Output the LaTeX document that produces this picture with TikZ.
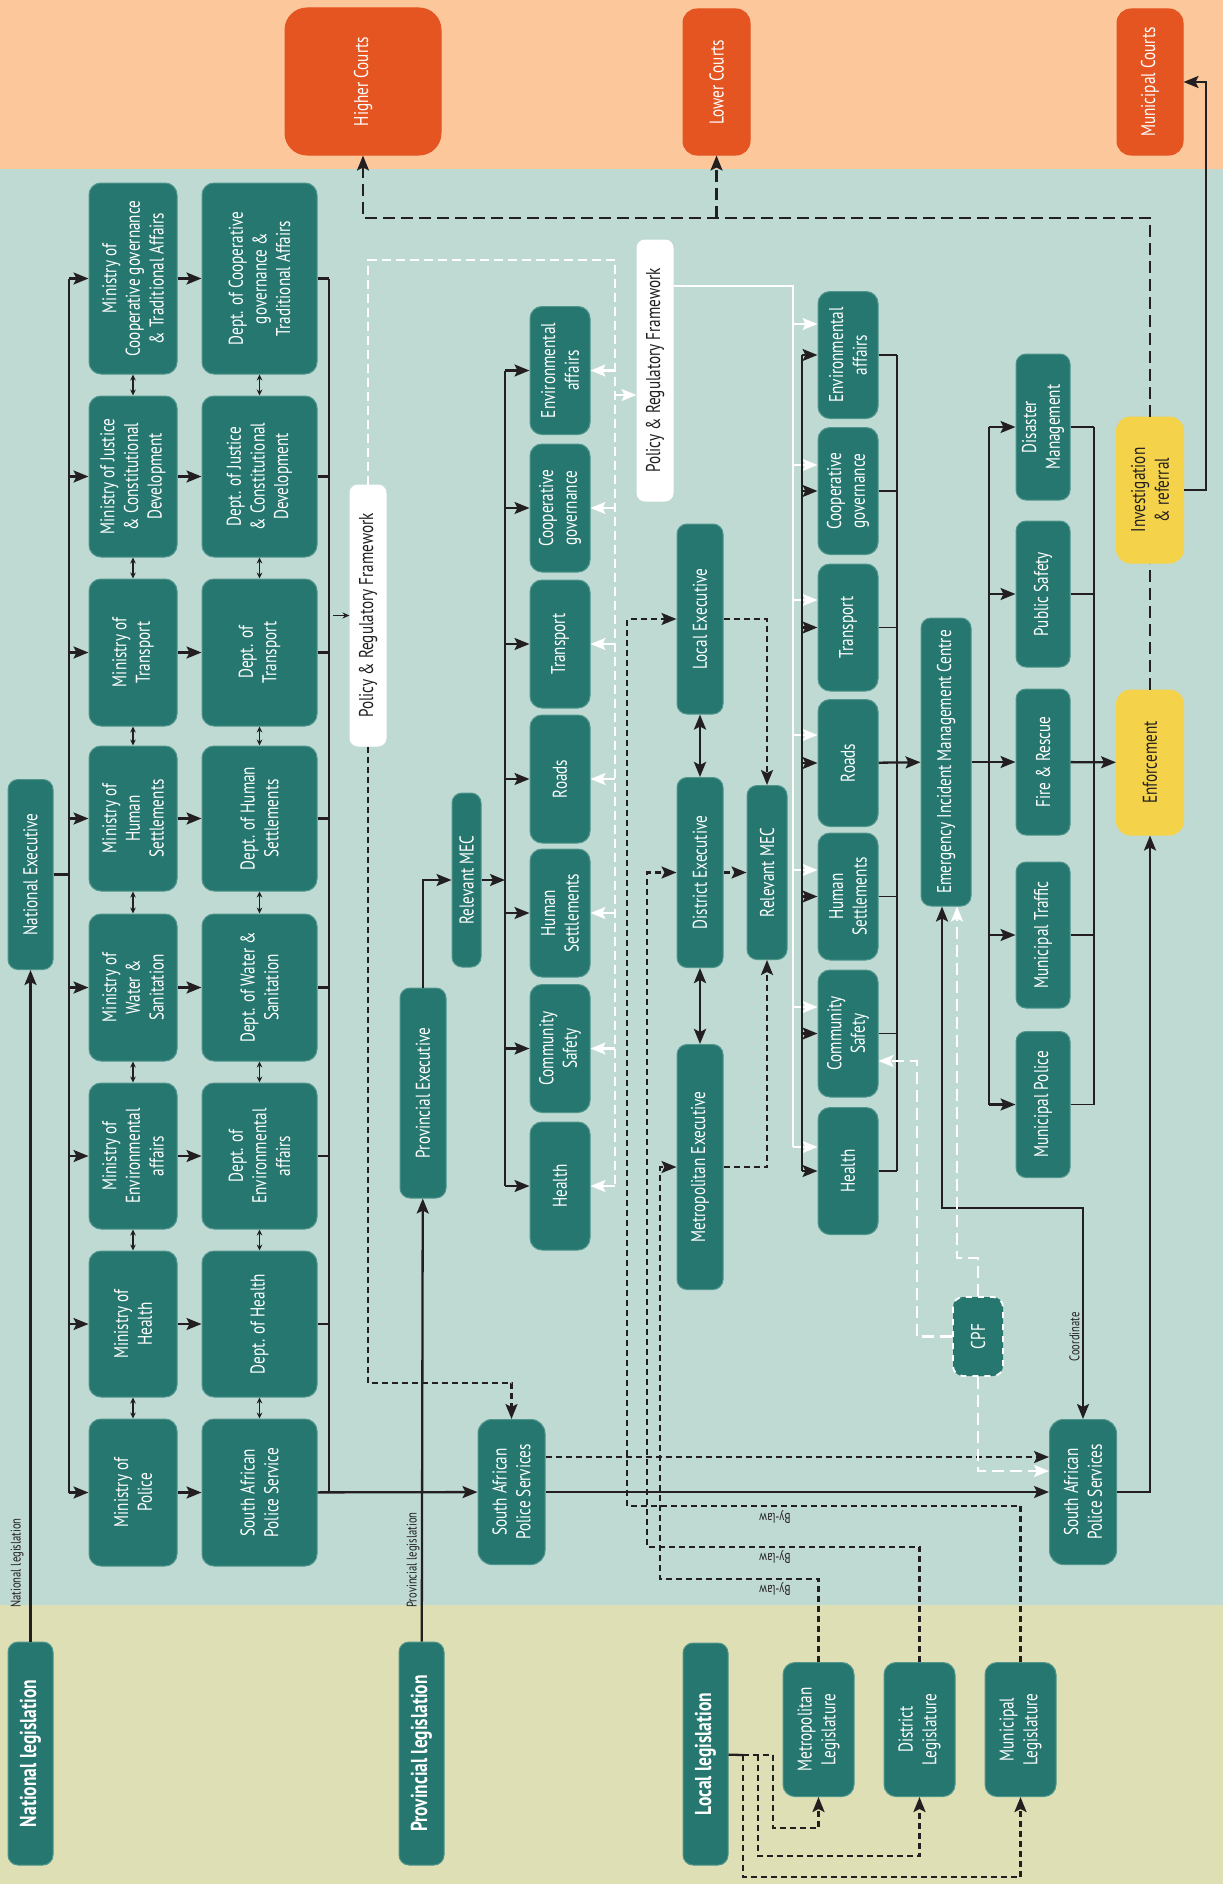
\documentclass[tikz,border=0pt]{standalone}
\usepackage{fontspec}
\setmainfont{PT Sans}[FakeStretch=0.76]
\usetikzlibrary{arrows.meta}

\definecolor{peach}{HTML}{FBC79B}
\definecolor{mint}{HTML}{BFD9D3}
\definecolor{olive}{HTML}{DEDFB4}
\definecolor{boxteal}{HTML}{26776F}
\definecolor{boxedge}{HTML}{4F958C}
\definecolor{courtred}{HTML}{E55522}
\definecolor{signal}{HTML}{F4D34A}
\definecolor{ink}{HTML}{231F20}

\begin{document}
\begin{tikzpicture}[
		x=0.5pt, y=-0.5pt,
		tealbox/.style={rectangle, rotate=90, fill=boxteal, draw=boxedge, line width=0.5pt, rounded corners=5pt, text=white, align=center, inner sep=1pt, font=\fontsize{10}{11.8}\selectfont},
		court/.style={tealbox, fill=courtred, draw=courtred, rounded corners=7pt},
		signalbox/.style={tealbox, fill=signal, draw=signal, text=ink, rounded corners=7pt},
		framebox/.style={tealbox, fill=white, draw=white, text=ink, rounded corners=4pt},
		legbox/.style={tealbox, font=\bfseries\fontsize{11.5}{13}\selectfont},
		mincol/.style={tealbox, minimum height=44pt, rounded corners=6pt},
		deptcol/.style={tealbox, minimum height=57.5pt, rounded corners=6pt},
		provcol/.style={tealbox, minimum height=30pt, minimum width=64pt, rounded corners=6pt},
		localcol/.style={tealbox, minimum height=30pt, minimum width=63.5pt, rounded corners=6pt},
		servcol/.style={tealbox, minimum height=27pt, minimum width=73pt},
		tag/.style={rotate=90, text=ink, inner sep=1pt, font=\fontsize{7}{8}\selectfont},
		bylaw/.style={rotate=180, text=ink, inner sep=1pt, font=\fontsize{7}{8}\selectfont},
		wire/.style={draw=ink, line width=1.15pt},
		thinwire/.style={draw=ink, line width=0.8pt},
		arrow/.style={wire, -{Stealth[length=7.5pt, width=6pt, inset=1.5pt]}},
		twoway/.style={wire, {Stealth[length=7.5pt, width=6pt, inset=1.5pt]}-{Stealth[length=7.5pt, width=6pt, inset=1.5pt]}},
		minilink/.style={draw=ink, line width=0.6pt, {Stealth[length=3pt, width=2.8pt]}-{Stealth[length=3pt, width=2.8pt]}},
		dashlink/.style={arrow, dash pattern=on 3pt off 2pt},
		courtline/.style={wire, dash pattern=on 6pt off 3pt},
		courtlink/.style={courtline, -{Stealth[length=7.5pt, width=6pt, inset=1.5pt]}},
		whiteline/.style={draw=white, line width=1.1pt},
		whitearrow/.style={whiteline, -{Stealth[length=7.5pt, width=6pt, inset=1.5pt]}},
		whitedashline/.style={whiteline, dash pattern=on 4.5pt off 2.5pt},
		whitedash/.style={whitearrow, dash pattern=on 6pt off 3pt}
		]
		
		\useasboundingbox (0,0) rectangle (1223,1884);
		%==================== Bands ====================%
		\fill[peach] (0,0) rectangle (1223,169);
		\fill[mint] (0,169) rectangle (1223,1605);
		\fill[olive] (0,1605) rectangle (1223,1884);
		
		%==================== Courts ====================%
		\node[court, minimum width=73.5pt, minimum height=78pt, rounded corners=11pt] (higher) at (363,81.5) {Higher Courts};
		\node[court, minimum width=73pt, minimum height=33.5pt] (lower) at (716.5,82) {Lower Courts};
		\node[court, minimum width=73pt, minimum height=33pt] (mcourts) at (1150,82) {Municipal Courts};
		
		%==================== National ====================%
		\node[tealbox, minimum width=95pt, minimum height=22.5pt] (natexec) at (30.5,874.5) {National Executive};
		\node[legbox, minimum width=111.5pt, minimum height=22.5pt] (natleg) at (30.5,1753.5) {National legislation};
		
		\node[mincol, minimum width=95.5pt] (mcoop) at (133,278.5) {Ministry of\\Cooperative governance\\\& Traditional Affairs};
		\node[deptcol, minimum width=95.5pt] (dcoop) at (259.5,278.5) {Dept. of Cooperative\\governance \&\\Traditional Affairs};
		\node[mincol, minimum width=80.5pt] (mjust) at (133,476.5) {Ministry of Justice\\\& Constitutional\\Development};
		\node[deptcol, minimum width=80.5pt] (djust) at (259.5,476.5) {Dept. of Justice\\\& Constitutional\\Development};
		\node[mincol, minimum width=73.5pt] (mtrans) at (133,652.5) {Ministry of\\Transport};
		\node[deptcol, minimum width=73.5pt] (dtrans) at (259.5,652.5) {Dept. of\\Transport};
		\node[mincol, minimum width=72.5pt] (mhum) at (133,818.5) {Ministry of\\Human\\Settlements};
		\node[deptcol, minimum width=72.5pt] (dhum) at (259.5,818.5) {Dept. of Human\\Settlements};
		\node[mincol, minimum width=73.5pt] (mwat) at (133,987.5) {Ministry of\\Water \&\\Sanitation};
		\node[deptcol, minimum width=73.5pt] (dwat) at (259.5,987.5) {Dept. of Water \&\\Sanitation};
		\node[mincol, minimum width=73pt] (menv) at (133,1156) {Ministry of\\Environmental\\affairs};
		\node[deptcol, minimum width=73pt] (denv) at (259.5,1156) {Dept. of\\Environmental\\affairs};
		\node[mincol, minimum width=73pt] (mhealth) at (133,1324) {Ministry of\\Health};
		\node[deptcol, minimum width=73pt] (dhealth) at (259.5,1324) {Dept. of Health};
		\node[mincol, minimum width=73.5pt] (mpol) at (133,1492.5) {Ministry of\\Police};
		\node[deptcol, minimum width=73.5pt] (dpol) at (259.5,1492.5) {South African\\Police Service};
		
		%==================== Provincial ====================%
		\node[framebox, minimum width=130.5pt, minimum height=18pt] (ppolicy) at (368,615.5) {Policy \& Regulatory Framework};
		\node[tealbox, minimum width=105pt, minimum height=23pt] (provexec) at (423,1093) {Provincial Executive};
		\node[legbox, minimum width=111.5pt, minimum height=22.5pt] (provleg) at (421.5,1753.5) {Provincial legislation};
		\node[tealbox, minimum width=87pt, minimum height=14.5pt] (pmec) at (466.5,880) {Relevant MEC};
		\node[tealbox, minimum width=72.5pt, minimum height=33.5pt, rounded corners=7pt] (psaps) at (511.5,1492) {South African\\Police Services};
		
		\node[provcol] (penv) at (560,370.5) {Environmental\\affairs};
		\node[provcol] (pcoop) at (560,508) {Cooperative\\governance};
		\node[provcol] (ptrans) at (560,644) {Transport};
		\node[provcol] (proads) at (560,779) {Roads};
		\node[provcol] (phum) at (560,913) {Human\\Settlements};
		\node[provcol] (pcomm) at (560,1048.5) {Community\\Safety};
		\node[provcol] (phealth) at (560,1186) {Health};
		
		%==================== Local ====================%
		\node[framebox, minimum width=130.5pt, minimum height=18pt] (lpolicy) at (655,370.5) {Policy \& Regulatory Framework};
		\node[tealbox, minimum width=95pt, minimum height=23pt] (lexec) at (700,619) {Local Executive};
		\node[tealbox, minimum width=95pt, minimum height=23pt] (dexec) at (700,872.5) {District Executive};
		\node[tealbox, minimum width=122.5pt, minimum height=23pt] (mexec) at (700,1167) {Metropolitan Executive};
		\node[tealbox, minimum width=87pt, minimum height=20pt] (lmec) at (767,872.5) {Relevant MEC};
		
		\node[localcol] (lenv) at (848,355) {Environmental\\affairs};
		\node[localcol] (lcoop) at (848,491) {Cooperative\\governance};
		\node[localcol] (ltrans) at (848,627.5) {Transport};
		\node[localcol] (lroads) at (848,763) {Roads};
		\node[localcol] (lhum) at (848,896.5) {Human\\Settlements};
		\node[localcol] (lcomm) at (848,1033.5) {Community\\Safety};
		\node[localcol] (lhealth) at (848,1171) {Health};
		
		\node[tealbox, minimum width=144pt, minimum height=25pt] (eimc) at (946,762) {Emergency Incident Management Centre};
		
		\node[servcol] (disaster) at (1043,427) {Disaster\\Management};
		\node[servcol] (pubsafe) at (1043,594) {Public Safety};
		\node[servcol] (fire) at (1043,762) {Fire \& Rescue};
		\node[servcol] (traffic) at (1043,935) {Municipal Traffic};
		\node[servcol] (mpolice) at (1043,1104.5) {Municipal Police};
		
		\node[signalbox, minimum width=72.5pt, minimum height=33.5pt] (enforce) at (1150,762.5) {Enforcement};
		\node[signalbox, minimum width=73pt, minimum height=33.5pt] (invest) at (1150,490) {Investigation\\\& referral};
		
		\node[tealbox, minimum width=39.5pt, minimum height=25pt, draw=white, dashed, line width=0.9pt] (cpf) at (978,1336.5) {CPF};
		\node[tealbox, minimum width=72.5pt, minimum height=33.5pt, rounded corners=7pt] (lsaps) at (1083,1492) {South African\\Police Services};
		
		\node[legbox, minimum width=111pt, minimum height=22.5pt] (localleg) at (705.5,1754) {Local legislation};
		\node[tealbox, minimum width=67pt, minimum height=35.5pt, rounded corners=6pt] (metleg) at (818.5,1729.5) {Metropolitan\\Legislature};
		\node[tealbox, minimum width=67pt, minimum height=35.5pt, rounded corners=6pt] (distleg) at (919.5,1729.5) {District\\Legislature};
		\node[tealbox, minimum width=67pt, minimum height=35.5pt, rounded corners=6pt] (munleg) at (1020.5,1729.5) {Municipal\\Legislature};
		
		%==================== National arrows ====================%
		\draw[arrow] (natleg) -- (natexec);
		\node[tag, anchor=south] (natlegtag) at (26,1563) {National legislation};
		\draw[wire] (natexec) -- (69,874.5);
		\draw[wire] (69,278.5) -- (69,1492.5);
		\draw[arrow] (69,278.5) -- (mcoop);
		\draw[arrow] (69,476.5) -- (mjust);
		\draw[arrow] (69,652.5) -- (mtrans);
		\draw[arrow] (69,818.5) -- (mhum);
		\draw[arrow] (69,987.5) -- (mwat);
		\draw[arrow] (69,1156) -- (menv);
		\draw[arrow] (69,1324) -- (mhealth);
		\draw[arrow] (69,1492.5) -- (mpol);
		
		\draw[arrow] (mcoop) -- (dcoop);
		\draw[arrow] (mjust) -- (djust);
		\draw[arrow] (mtrans) -- (dtrans);
		\draw[arrow] (mhum) -- (dhum);
		\draw[arrow] (mwat) -- (dwat);
		\draw[arrow] (menv) -- (denv);
		\draw[arrow] (mhealth) -- (dhealth);
		\draw[arrow] (mpol) -- (dpol);
		
		\draw[minilink] (mcoop) -- (mjust);
		\draw[minilink] (mjust) -- (mtrans);
		\draw[minilink] (mtrans) -- (mhum);
		\draw[minilink] (mhum) -- (mwat);
		\draw[minilink] (mwat) -- (menv);
		\draw[minilink] (menv) -- (mhealth);
		\draw[minilink] (mhealth) -- (mpol);
		\draw[minilink] (dcoop) -- (djust);
		\draw[minilink] (djust) -- (dtrans);
		\draw[minilink] (dtrans) -- (dhum);
		\draw[minilink] (dhum) -- (dwat);
		\draw[minilink] (dwat) -- (denv);
		\draw[minilink] (denv) -- (dhealth);
		\draw[minilink] (dhealth) -- (dpol);
		
		\draw[wire] (dcoop) -- (329,278.5);
		\draw[wire] (djust) -- (329,476.5);
		\draw[wire] (dtrans) -- (329,652.5);
		\draw[wire] (dhum) -- (329,818.5);
		\draw[wire] (dwat) -- (329,987.5);
		\draw[wire] (denv) -- (329,1156);
		\draw[wire] (dhealth) -- (329,1324);
		\draw[wire] (329,278.5) -- (329,1492.5);
		\draw[arrow] (dpol) -- (psaps);
		\draw[draw=ink, line width=0.6pt, -{Stealth[length=3.5pt, width=3pt]}] (333,615.5) -- (ppolicy);
		
		%==================== Provincial arrows ====================%
		\draw[arrow] (provleg) -- (provexec);
		\node[tag, anchor=south] (provlegtag) at (422,1560) {Provincial legislation};
		\draw[arrow] (provexec) |- (pmec);
		\draw[arrow] (pmec) -- (505,880);
		\draw[wire] (505,370.5) -- (505,1186);
		\draw[arrow] (505,370.5) -- (penv);
		\draw[arrow] (505,508) -- (pcoop);
		\draw[arrow] (505,644) -- (ptrans);
		\draw[arrow] (505,779) -- (proads);
		\draw[arrow] (505,913) -- (phum);
		\draw[arrow] (505,1048.5) -- (pcomm);
		\draw[arrow] (505,1186) -- (phealth);
		
		\draw[dashlink] (ppolicy) -- (368,1383) -| (psaps);
		\draw[whitedashline] (ppolicy) -- (368,260) -- (615,260) -- (615,1186);
		\draw[whitearrow] (615,370.5) -- (penv);
		\draw[whitearrow] (615,508) -- (pcoop);
		\draw[whitearrow] (615,644) -- (ptrans);
		\draw[whitearrow] (615,779) -- (proads);
		\draw[whitearrow] (615,913) -- (phum);
		\draw[whitearrow] (615,1048.5) -- (pcomm);
		\draw[whitearrow] (615,1186) -- (phealth);
		\draw[whitearrow] (615,395) -- (615,395 -| lpolicy.north);
		
		%==================== Local arrows ====================%
		\draw[whiteline] (lpolicy.south |- 0,286) -- (793,286) -- (793,1147);
		\draw[whitearrow] (793,324) -- (793,324 -| lenv.north);
		\draw[whitearrow] (793,465) -- (793,465 -| lcoop.north);
		\draw[whitearrow] (793,600) -- (793,600 -| ltrans.north);
		\draw[whitearrow] (793,735) -- (793,735 -| lroads.north);
		\draw[whitearrow] (793,870) -- (793,870 -| lhum.north);
		\draw[whitearrow] (793,1007) -- (793,1007 -| lcomm.north);
		\draw[whitearrow] (793,1147) -- (793,1147 -| lhealth.north);
		
		\draw[wire] (802,355) -- (802,1171);
		\draw[arrow] (802,355) -- (lenv);
		\draw[arrow] (802,491) -- (lcoop);
		\draw[arrow] (802,627.5) -- (ltrans);
		\draw[arrow] (802,763) -- (lroads);
		\draw[arrow] (802,896.5) -- (lhum);
		\draw[arrow] (802,1033.5) -- (lcomm);
		\draw[arrow] (802,1171) -- (lhealth);
		
		\draw[thinwire] (lenv) -- (897,355);
		\draw[thinwire] (lcoop) -- (897,491);
		\draw[thinwire] (ltrans) -- (897,627.5);
		\draw[thinwire] (lhum) -- (897,896.5);
		\draw[thinwire] (lcomm) -- (897,1033.5);
		\draw[thinwire] (lhealth) -- (897,1171);
		\draw[thinwire] (897,355) -- (897,1171);
		\draw[arrow] (lroads) -- (eimc);
		
		\draw[wire] (eimc) -- (989,762);
		\draw[wire] (989,427) -- (989,1104.5);
		\draw[arrow] (989,427) -- (disaster);
		\draw[arrow] (989,594) -- (pubsafe);
		\draw[arrow] (989,762) -- (fire);
		\draw[arrow] (989,935) -- (traffic);
		\draw[arrow] (989,1104.5) -- (mpolice);
		\draw[thinwire] (disaster) -- (1094,427);
		\draw[thinwire] (pubsafe) -- (1094,594);
		\draw[thinwire] (traffic) -- (1094,935);
		\draw[thinwire] (mpolice) -- (1094,1104.5);
		\draw[thinwire] (1094,427) -- (1094,1104.5);
		\draw[arrow] (fire) -- (enforce);
		
		%==================== Courts arrows ====================%
		\draw[courtline] (enforce) -- (invest);
		\draw[courtlink] (invest) -- (1150,218) -| (higher);
		\draw[courtlink] (716.5,218) -- (lower);
		\draw[arrow] (invest) -- (1206,490) |- (mcourts);
		
		%==================== Police arrows ====================%
		\draw[arrow] (psaps) -- (lsaps);
		\draw[dashlink] (psaps.south |- 0,1457) -- (lsaps.north |- 0,1457);
		\draw[arrow] (lsaps) -| (enforce);
		\draw[twoway] (eimc.west -| 942,0) -- (942,1208) -| (lsaps);
		\node[tag, anchor=south] (coordtag) at (1082,1337) {Coordinate};
		
		\draw[whitedash] (cpf) -- (978,1471) -- (lsaps.north |- 0,1471);
		\draw[whitedash] (cpf) -- (917,1336.5) -- (917,1061) -- (lcomm.south |- 0,1061);
		\draw[whitedash] (cpf) -- (978,1258) -- (957,1258) -- (eimc.west -| 957,0);
		
		%==================== Executives ====================%
		\draw[twoway, line width=1.4pt] (lexec) -- (dexec);
		\draw[twoway, line width=1.4pt] (dexec) -- (mexec);
		\draw[dashlink] (lexec) -| (lmec);
		\draw[dashlink] (dexec) -- (lmec);
		\draw[dashlink] (mexec) -| (lmec);
		
		\draw[dashlink] (metleg) -- (818.5,1579) -- (660,1579) |- (mexec);
		\draw[dashlink] (distleg) -- (919.5,1547) -- (647,1547) |- (dexec);
		\draw[dashlink] (munleg) -- (1020.5,1506) -- (627,1506) |- (lexec);
		\node[bylaw] (bylaw1) at (775,1517) {By-law};
		\node[bylaw] (bylaw2) at (775,1557) {By-law};
		\node[bylaw] (bylaw3) at (775,1589) {By-law};
		
		\draw[wire] (localleg) -- (743,1755);
		\draw[dashlink, -] (743,1755) -- (773,1755);
		\draw[dashlink] (773,1755) -- (773,1828) -| (metleg);
		\draw[dashlink] (758,1755) -- (758,1856) -| (distleg);
		\draw[dashlink] (743,1755) -- (743,1877) -| (munleg);
		
	\end{tikzpicture}
\end{document}
